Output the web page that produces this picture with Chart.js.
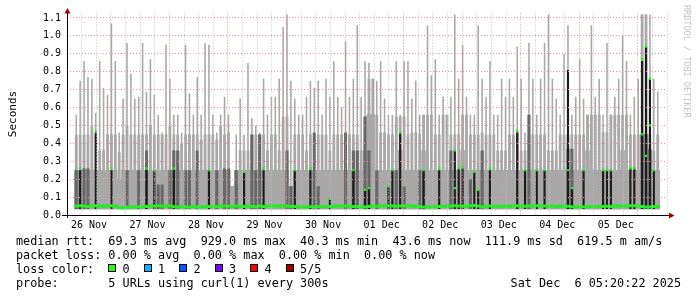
<!DOCTYPE html>
<html>
<head>
<meta charset="utf-8">
<script src="https://cdn.jsdelivr.net/npm/chart.js@4"></script>
<style>
  html, body { margin: 0; padding: 0; background: #fff; }
  #wrap { width: 697px; height: 297px; }
</style>
</head>
<body>
<div id="wrap"><canvas id="smoke" width="697" height="297"></canvas></div>
<script>
// SmokePing style graph, last 10 days. x is hours since 26 Nov ~06:00, one bin = 1.6 h
const binHours = 1.6;
const spanHours = 240;
const dayLabels = ['26 Nov', '27 Nov', '28 Nov', '29 Nov', '30 Nov', '01 Dec', '02 Dec', '03 Dec', '04 Dec', '05 Dec'];
const yTicks = [0.0, 0.1, 0.2, 0.3, 0.4, 0.5, 0.6, 0.7, 0.8, 0.9, 1.0, 1.1];

// bottom of the smoke (fastest ping)
const smokeFloor = 0.033;

// lower smoke layer (4th ping)
const smokeMid = [
  0.25, 0.25, 0.25, 0.25, 0.25, 0.25, 0.25, 0.25, 0.25, 0.25,
  0.25, 0.2, 0.25, 0.25, 0.25, 0.25, 0.25, 0.25, 0.25, 0.25,
  0.25, 0.25, 0.25, 0.25, 0.25, 0.25, 0.25, 0.25, 0.25, 0.25,
  0.25, 0.25, 0.25, 0.25, 0.25, 0.25, 0.25, 0.25, 0.25, 0.25,
  0.16, 0.25, 0.25, 0.25, 0.25, 0.25, 0.25, 0.25, 0.25, 0.25,
  0.25, 0.25, 0.25, 0.25, 0.25, 0.16, 0.25, 0.25, 0.25, 0.25,
  0.25, 0.25, 0.25, 0.25, 0.25, 0.25, 0.25, 0.25, 0.25, 0.25,
  0.25, 0.25, 0.25, 0.25, 0.36, 0.56, 0.56, 0.25, 0.25, 0.25,
  0.25, 0.25, 0.25, 0.36, 0.25, 0.25, 0.25, 0.25, 0.25, 0.36,
  0.25, 0.25, 0.25, 0.25, 0.25, 0.25, 0.25, 0.25, 0.25, 0.36,
  0.25, 0.25, 0.25, 0.25, 0.25, 0.25, 0.25, 0.25, 0.25, 0.25,
  0.25, 0.25, 0.25, 0.25, 0.25, 0.25, 0.25, 0.25, 0.25, 0.25,
  0.25, 0.25, 0.25, 0.25, 0.25, 0.25, 0.25, 0.25, 0.25, 0.25,
  0.25, 0.36, 0.25, 0.25, 0.25, 0.25, 0.25, 0.25, 0.25, 0.25,
  0.36, 0.25, 0.25, 0.25, 0.25, 0.45, 0.45, 0.36, 0.25, 0.25
];

// light grey smoke body (upper pings)
const smokeBody = [
  0.45, 0.45, 0.45, 0.45, 0.5, 0.45, 0.36, 0.36, 0.45, 0.45,
  0.45, 0.35, 0.45, 0.5, 0.45, 0.45, 0.45, 0.45, 0.45, 0.5,
  0.45, 0.45, 0.45, 0.45, 0.5, 0.45, 0.45, 0.4, 0.45, 0.45,
  0.45, 0.45, 0.42, 0.45, 0.45, 0.45, 0.42, 0.5, 0.45, 0.46,
  0.16, 0.25, 0.36, 0.36, 0.36, 0.45, 0.45, 0.45, 0.45, 0.36,
  0.45, 0.45, 0.36, 0.55, 0.55, 0.16, 0.45, 0.45, 0.45, 0.36,
  0.45, 0.45, 0.45, 0.45, 0.45, 0.36, 0.45, 0.45, 0.45, 0.45,
  0.45, 0.45, 0.45, 0.36, 0.55, 0.76, 0.76, 0.56, 0.46, 0.46,
  0.45, 0.45, 0.55, 0.55, 0.55, 0.45, 0.46, 0.46, 0.45, 0.56,
  0.56, 0.56, 0.45, 0.45, 0.56, 0.56, 0.45, 0.45, 0.45, 0.56,
  0.56, 0.45, 0.45, 0.45, 0.46, 0.45, 0.45, 0.45, 0.36, 0.36,
  0.36, 0.45, 0.45, 0.46, 0.36, 0.36, 0.45, 0.45, 0.45, 0.45,
  0.45, 0.36, 0.36, 0.36, 0.45, 0.45, 0.45, 0.45, 0.45, 0.45,
  0.45, 0.56, 0.56, 0.56, 0.56, 0.46, 0.46, 0.56, 0.56, 0.56,
  0.56, 0.56, 0.45, 0.45, 0.45, 1.12, 1.12, 0.45, 0.36, 0.45
];

// slowest ping per bin (thin spikes)
const smokeSpike = [
  0.56, 0.75, 0.86, 0.77, 0.76, 0.57, 0.86, 0.71, 0.67, 1.07,
  0.86, 0.46, 0.65, 0.96, 0.79, 0.65, 0.66, 0.96, 0.69, 0.87,
  0.67, 0.56, 0.46, 0.95, 0.76, 0.56, 0.56, 0.46, 0.95, 0.68,
  0.56, 0.77, 0.56, 0.96, 0.95, 0.56, 0.46, 0.56, 0.66, 0.56,
  0.16, 0.45, 0.65, 0.45, 0.85, 0.54, 0.5, 0.46, 0.76, 0.56,
  0.66, 0.66, 0.76, 1.05, 1.12, 0.75, 0.65, 0.56, 0.56, 0.66,
  0.75, 0.71, 0.75, 0.56, 0.76, 0.66, 0.86, 0.66, 0.6, 0.97,
  0.66, 0.76, 1.06, 0.66, 0.86, 0.85, 0.76, 0.75, 0.86, 0.65,
  0.56, 0.56, 0.86, 0.56, 0.86, 0.86, 0.65, 0.75, 0.56, 0.56,
  1.06, 0.78, 0.87, 0.56, 0.66, 0.56, 0.66, 1.12, 0.76, 0.95,
  0.66, 0.56, 0.56, 1.06, 0.76, 0.66, 0.86, 0.56, 0.56, 0.76,
  0.66, 0.76, 0.66, 0.94, 0.76, 0.46, 0.96, 0.76, 0.56, 0.76,
  0.96, 1.12, 0.76, 0.65, 0.56, 0.9, 1.06, 0.56, 0.66, 0.87,
  0.65, 0.56, 1.06, 0.66, 0.76, 0.56, 0.96, 0.56, 0.66, 0.76,
  1.0, 0.86, 0.56, 0.66, 0.76, 1.12, 1.12, 1.12, 0.76, 0.69
];

// darker grey smoke (0 = none)
const smokeDark = [
  0.25, 0.25, 0.26, 0.26, 0, 0, 0, 0, 0, 0,
  0, 0, 0, 0.25, 0, 0, 0.25, 0, 0.36, 0,
  0, 0.17, 0.17, 0, 0.25, 0.36, 0.36, 0, 0.25, 0.25,
  0, 0.36, 0, 0, 0, 0, 0.25, 0, 0.26, 0.26,
  0, 0.25, 0, 0, 0, 0.45, 0.25, 0.45, 0, 0,
  0, 0, 0, 0, 0.36, 0.16, 0, 0, 0, 0,
  0, 0.46, 0.16, 0, 0, 0, 0, 0, 0, 0.46,
  0, 0.36, 0.36, 0, 0.55, 0.36, 0, 0.25, 0, 0,
  0, 0, 0.25, 0, 0.16, 0, 0, 0, 0.25, 0.25,
  0, 0, 0, 0, 0, 0, 0.36, 0, 0, 0,
  0, 0.2, 0, 0, 0.36, 0, 0, 0, 0, 0,
  0, 0, 0, 0, 0, 0, 0.56, 0, 0, 0,
  0, 0, 0, 0, 0, 0, 0.37, 0.37, 0, 0,
  0, 0, 0, 0, 0, 0, 0, 0, 0, 0,
  0, 0, 0, 0, 0, 0.45, 0.45, 0.37, 0, 0
];

// darkest smoke band (0 = none)
const smokeBlack = [
  0, 0.25, 0, 0, 0, 0.46, 0, 0, 0, 0.25,
  0, 0, 0, 0, 0, 0, 0, 0, 0.25, 0,
  0.25, 0, 0, 0, 0, 0.25, 0, 0, 0, 0,
  0, 0, 0, 0, 0.25, 0, 0, 0, 0, 0,
  0, 0, 0, 0.24, 0, 0, 0, 0, 0.25, 0,
  0, 0, 0, 0, 0, 0, 0.25, 0, 0, 0,
  0.25, 0, 0, 0, 0, 0.09, 0, 0, 0, 0,
  0, 0.25, 0, 0, 0.14, 0.15, 0, 0, 0, 0,
  0.16, 0.25, 0, 0.46, 0, 0, 0, 0, 0, 0.25,
  0, 0, 0, 0.25, 0, 0, 0, 0.36, 0.26, 0.26,
  0, 0, 0.24, 0.14, 0, 0, 0.25, 0, 0, 0,
  0, 0, 0, 0.46, 0, 0.25, 0, 0, 0.25, 0,
  0.25, 0, 0, 0, 0, 0, 0.81, 0.15, 0, 0,
  0.25, 0, 0, 0, 0, 0.25, 0.25, 0.25, 0, 0,
  0, 0, 0.26, 0.26, 0, 0.86, 0.94, 0.76, 0.25, 0
];

// median rtt (seconds)
const medianRtt = [
  0.05, 0.052, 0.05, 0.048, 0.05, 0.052, 0.05, 0.049, 0.05, 0.051,
  0.05, 0.042, 0.041, 0.043, 0.045, 0.044, 0.046, 0.045, 0.047, 0.05,
  0.05, 0.052, 0.05, 0.049, 0.051, 0.046, 0.045, 0.044, 0.046, 0.045,
  0.047, 0.046, 0.044, 0.046, 0.048, 0.046, 0.048, 0.05, 0.05, 0.049,
  0.046, 0.05, 0.048, 0.047, 0.05, 0.048, 0.046, 0.05, 0.047, 0.05,
  0.051, 0.05, 0.049, 0.052, 0.05, 0.048, 0.047, 0.044, 0.046, 0.045,
  0.046, 0.045, 0.048, 0.047, 0.046, 0.047, 0.049, 0.05, 0.05, 0.05,
  0.049, 0.047, 0.047, 0.046, 0.045, 0.048, 0.05, 0.049, 0.05, 0.052,
  0.052, 0.05, 0.049, 0.05, 0.052, 0.051, 0.049, 0.048, 0.047, 0.045,
  0.045, 0.044, 0.046, 0.047, 0.049, 0.05, 0.05, 0.051, 0.05, 0.049,
  0.048, 0.052, 0.053, 0.05, 0.046, 0.047, 0.05, 0.049, 0.046, 0.048,
  0.05, 0.049, 0.05, 0.052, 0.05, 0.049, 0.05, 0.05, 0.051, 0.052,
  0.05, 0.049, 0.05, 0.048, 0.047, 0.05, 0.049, 0.046, 0.046, 0.045,
  0.046, 0.046, 0.047, 0.046, 0.048, 0.048, 0.049, 0.048, 0.05, 0.05,
  0.052, 0.05, 0.051, 0.051, 0.05, 0.048, 0.044, 0.045, 0.047, 0.048
];

// short median excursions: [bin, seconds]
const medianPeaks = [
  [1, 0.26], [5, 0.47], [9, 0.26], [18, 0.26], [20, 0.25], [25, 0.26], [34, 0.25],
  [43, 0.24], [48, 0.26], [56, 0.25], [60, 0.26], [65, 0.09], [71, 0.25], [74, 0.14],
  [75, 0.15], [80, 0.16], [81, 0.25], [83, 0.46], [89, 0.25], [93, 0.26], [97, 0.36],
  [97, 0.15], [98, 0.26], [99, 0.27], [102, 0.24], [103, 0.14], [106, 0.26], [113, 0.47],
  [115, 0.25], [118, 0.25], [120, 0.25], [126, 0.25], [127, 0.15], [130, 0.25], [135, 0.25],
  [136, 0.25], [137, 0.25], [142, 0.26], [143, 0.26], [145, 0.87], [145, 0.45], [146, 0.94],
  [146, 0.33], [147, 0.76], [147, 0.5], [148, 0.25]
];

const legendLines = [
  'median rtt:  69.3 ms avg  929.0 ms max  40.3 ms min  43.6 ms now  111.9 ms sd  619.5 m am/s',
  'packet loss: 0.00 % avg  0.00 % max  0.00 % min  0.00 % now'
];
const lossLabels = ['0', '1', '2', '3', '4', '5/5'];
const lossColors = ['#26ff00', '#00b8ff', '#0059ff', '#7e00ff', '#ff0000', '#a10000'];
const probeLine = 'probe:       5 URLs using curl(1) every 300s';
const stampText = 'Sat Dec  6 05:20:22 2025';
const watermark = 'RRDTOOL / TOBI OETIKER';

const mono = 'DejaVu Sans Mono';
const binX = i => binHours * (i + 0.5);

function floating(arr) {
  const out = [];
  arr.forEach((v, i) => { if (v > 0) out.push({x: binX(i), y: [smokeFloor, v]}); });
  return out;
}

const medianBars = medianRtt.map((m, i) => ({x: binX(i), y: [m - 0.0065, m + 0.0065]}));
const peakBars = medianPeaks.map(p => ({x: binX(p[0]), y: [p[1] - 0.006, p[1] + 0.006]}));

const gridHours = [];
for (let h = 0; h <= spanHours; h += 6) gridHours.push(h);
const isMidnight = h => (h - 18) % 24 === 0;
const isNoon = h => (h - 6) % 24 === 0;

const barBase = {grouped: false, borderWidth: 0, categoryPercentage: 1};
const pink = '#e89494';

const frame = {
  id: 'frame',
  afterDraw(chart) {
    const ctx = chart.ctx;
    ctx.save();
    // axes
    ctx.strokeStyle = '#000';
    ctx.lineWidth = 1;
    ctx.beginPath();
    ctx.moveTo(62, 215.5); ctx.lineTo(670, 215.5);
    ctx.moveTo(67.5, 218); ctx.lineTo(67.5, 12);
    ctx.stroke();
    ctx.fillStyle = '#a00000';
    ctx.beginPath();
    ctx.moveTo(64.5, 13.5); ctx.lineTo(70.5, 13.5); ctx.lineTo(67.5, 8); ctx.closePath();
    ctx.fill();
    ctx.beginPath();
    ctx.moveTo(669, 212.5); ctx.lineTo(669, 218.5); ctx.lineTo(674.5, 215.5); ctx.closePath();
    ctx.fill();

    // y title
    ctx.save();
    ctx.translate(16, 114);
    ctx.rotate(-Math.PI / 2);
    ctx.font = '11px ' + mono;
    ctx.fillStyle = '#000';
    ctx.textAlign = 'center';
    ctx.fillText('Seconds', 0, 0);
    ctx.restore();

    // watermark
    ctx.save();
    ctx.translate(684, 5);
    ctx.rotate(Math.PI / 2);
    ctx.font = '8.5px ' + mono;
    ctx.fillStyle = '#c4c4c4';
    ctx.fillText(watermark, 0, 0);
    ctx.restore();

    // legend block
    ctx.font = '11.8px ' + mono;
    ctx.fillStyle = '#000';
    ctx.textAlign = 'left';
    const cw = ctx.measureText('0').width;
    const x0 = 16;
    ctx.fillText(legendLines[0], x0, 245);
    ctx.fillText(legendLines[1], x0, 259);
    ctx.fillText('loss color:', x0, 273);
    lossLabels.forEach((lab, i) => {
      const bx = Math.round(x0 + (13 + 5 * i) * cw);
      ctx.fillStyle = lossColors[i];
      ctx.fillRect(bx, 264, 8, 8);
      ctx.strokeStyle = '#000';
      ctx.strokeRect(bx + 0.5, 264.5, 7, 7);
      ctx.fillStyle = '#000';
      ctx.fillText(lab, x0 + (15 + 5 * i) * cw, 273);
    });
    ctx.fillText(probeLine, x0, 287);
    ctx.textAlign = 'right';
    ctx.fillText(stampText, 681, 287);
    ctx.restore();
  }
};

new Chart(document.getElementById('smoke'), {
  type: 'bar',
  data: {
    datasets: [
      Object.assign({label: 'median', data: medianBars, backgroundColor: '#1ef01e', order: 0, barPercentage: 1}, barBase),
      Object.assign({label: 'median peaks', data: peakBars, backgroundColor: '#1ef01e', order: 0, barPercentage: 0.6}, barBase),
      Object.assign({label: 'black', data: floating(smokeBlack), backgroundColor: '#1c1c1c', order: 1, barPercentage: 0.55}, barBase),
      Object.assign({label: 'dark', data: floating(smokeDark), backgroundColor: '#686868', order: 2, barPercentage: 0.8}, barBase),
      Object.assign({label: 'spike', data: floating(smokeSpike), backgroundColor: '#a8a8a8', order: 3, barPercentage: 0.4}, barBase),
      Object.assign({label: 'body', data: floating(smokeBody), backgroundColor: '#a8a8a8', order: 4, barPercentage: 0.72}, barBase),
      Object.assign({label: 'mid', data: floating(smokeMid), backgroundColor: '#a8a8a8', order: 5, barPercentage: 1}, barBase)
    ]
  },
  options: {
    responsive: false,
    animation: false,
    devicePixelRatio: 1,
    layout: {padding: {top: 12.6, right: 30, left: 0, bottom: 0}},
    plugins: {legend: {display: false}, tooltip: {enabled: false}},
    scales: {
      x: {
        type: 'linear',
        min: 0,
        max: spanHours,
        afterBuildTicks: s => { s.ticks = gridHours.map(v => ({value: v})); },
        afterFit: s => { s.height = 82; },
        grid: {
          color: c => (c.tick && isMidnight(c.tick.value)) ? pink : '#c4c4c4',
          drawTicks: false,
          z: 1
        },
        border: {display: false, dash: [1, 2]},
        ticks: {
          autoSkip: false,
          maxRotation: 0,
          padding: 4,
          color: '#000',
          font: {family: mono, size: 10},
          callback: v => isNoon(v) ? dayLabels[(v - 6) / 24] : ''
        }
      },
      y: {
        min: 0,
        max: 1.13,
        afterBuildTicks: s => { s.ticks = yTicks.map(v => ({value: v})); },
        afterFit: s => { s.width = 67; },
        grid: {color: pink, drawTicks: false, z: 1},
        border: {display: false, dash: [1, 2]},
        ticks: {
          padding: 6,
          color: '#000',
          font: {family: mono, size: 10},
          callback: v => v.toFixed(1)
        }
      }
    }
  },
  plugins: [frame]
});
</script>
</body>
</html>
